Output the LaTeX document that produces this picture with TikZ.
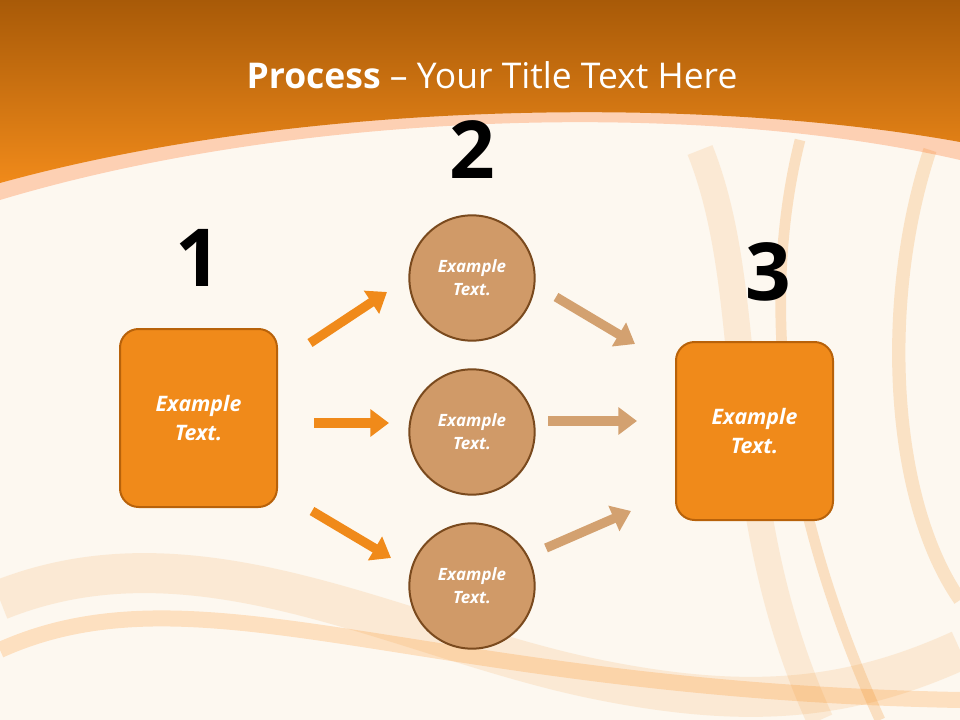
\documentclass[tikz,border=0pt]{standalone}
\usepackage{fontspec}
\setmainfont{Open Sans}
\usetikzlibrary{arrows.meta}
\definecolor{cream}{HTML}{FDF8F0}
\definecolor{org}{HTML}{F08A1A}
\definecolor{orgdark}{HTML}{A85A08}
\definecolor{orgline}{HTML}{B8620A}
\definecolor{tan}{HTML}{D09A68}
\definecolor{tanline}{HTML}{7A4A1E}
\definecolor{tanarrow}{HTML}{D3A170}
\tikzset{
  sqbox/.style={draw=orgline,line width=1.5pt,fill=org,rounded corners=14pt,minimum width=117.75pt,minimum height=133.5pt,text=white,font=\bfseries\itshape\fontsize{16}{22}\selectfont,align=center},
  circ/.style={circle,draw=tanline,line width=1.5pt,fill=tan,minimum size=94pt,text=white,font=\bfseries\itshape\fontsize{12.7}{17}\selectfont,align=center},
  num/.style={font=\bfseries\fontsize{60}{62}\selectfont,text=black},
  oarr/.style={draw=org,line width=7pt,-{Triangle[length=14pt,width=20pt]}},
  tarr/.style={draw=tanarrow,line width=7pt,-{Triangle[length=14pt,width=20pt]}},
  swoosh/.style={line width=#1,draw=org,opacity=0.13}
}
\begin{document}
\begin{tikzpicture}[x=0.75pt,y=-0.75pt]
\useasboundingbox (0,0) rectangle (960,720);
\fill[cream] (0,0) rectangle (960,720);
% swooshes
\draw[swoosh=30pt] (0,600) .. controls (200,520) and (400,640) .. (600,680) .. controls (750,710) and (850,700) .. (960,650);
\draw[swoosh=12pt,draw=orange,opacity=0.2] (0,650) .. controls (200,560) and (420,690) .. (960,700);
\draw[swoosh=20pt] (700,150) .. controls (760,300) and (720,500) .. (820,720);
\draw[swoosh=8pt,opacity=0.22] (800,140) .. controls (760,300) and (780,500) .. (880,720);
\draw[swoosh=10pt,opacity=0.2] (930,150) .. controls (880,300) and (890,500) .. (960,600);
% header
\fill[red!30!orange,opacity=0.25] (0,0) -- (960,0) -- (960,160) .. controls (700,100) and (300,110) .. (0,200) -- cycle;
\shade[top color=orgdark,bottom color=org] (0,0) -- (960,0) -- (960,142) .. controls (700,95) and (300,100) .. (0,183) -- cycle;
\node[text=white,font=\fontsize{26.6}{30}\selectfont] (title) at (492,75) {\textbf{Process} – Your Title Text Here};
% numbers
\node[num] (n1) at (198,258) {1};
\node[num] (n2) at (472,150) {2};
\node[num] (n3) at (768,272) {3};
% boxes
\node[sqbox] (b1) at (198.5,418) {Example\\Text.};
\node[sqbox] (b3) at (754.5,431) {Example\\Text.};
\node[circ] (c1) at (472,278) {Example\\Text.};
\node[circ] (c2) at (472,432) {Example\\Text.};
\node[circ] (c3) at (472,586) {Example\\Text.};
% arrows
\coordinate (a1s) at (310,343); \coordinate (a1e) at (387,292);
\coordinate (a2s) at (314,423); \coordinate (a2e) at (389,423);
\coordinate (a3s) at (312,511); \coordinate (a3e) at (391,558);
\coordinate (d1s) at (556,297); \coordinate (d1e) at (635,344);
\coordinate (d2s) at (548,421); \coordinate (d2e) at (637,421);
\coordinate (d3s) at (546,548); \coordinate (d3e) at (631,511);
\draw[oarr] (a1s) -- (a1e);
\draw[oarr] (a2s) -- (a2e);
\draw[oarr] (a3s) -- (a3e);
\draw[tarr] (d1s) -- (d1e);
\draw[tarr] (d2s) -- (d2e);
\draw[tarr] (d3s) -- (d3e);
\end{tikzpicture}
\end{document}
